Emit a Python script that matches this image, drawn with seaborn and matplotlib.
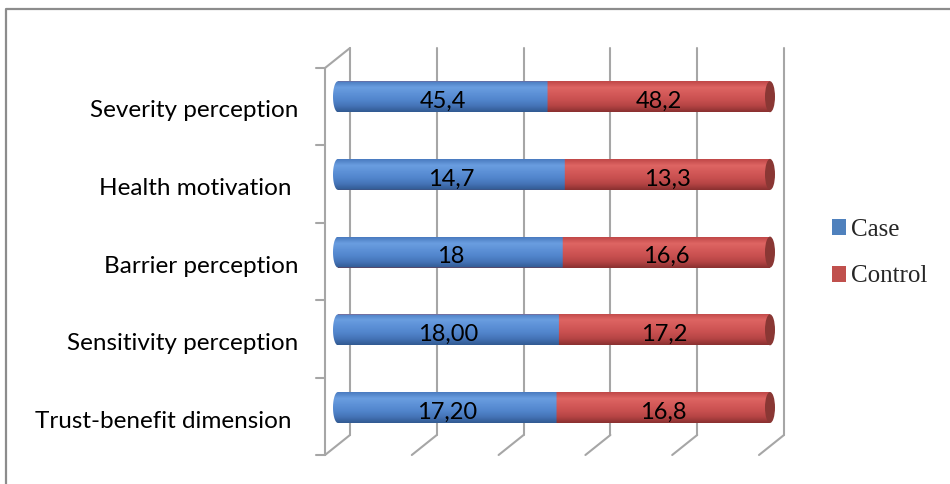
import numpy as np
import pandas as pd
import matplotlib
matplotlib.use("Agg")
import matplotlib.pyplot as plt
import matplotlib.transforms as mtransforms
from matplotlib.colors import LinearSegmentedColormap
from matplotlib.path import Path
from matplotlib.patches import PathPatch, Ellipse, Patch
import seaborn as sns

# ---- data ----
categories = ["Severity perception", "Health motivation ", "Barrier perception",
              "Sensitivity perception", "Trust-benefit dimension "]
case_values = [45.4, 14.7, 18.0, 18.0, 17.2]
control_values = [48.2, 13.3, 16.6, 17.2, 16.8]
case_labels = ["45,4", "14,7", "18", "18,00", "17,20"]
control_labels = ["48,2", "13,3", "16,6", "17,2", "16,8"]
series_names = ["Case", "Control"]

case_pct = [100 * a / (a + b) for a, b in zip(case_values, control_values)]
total_pct = [100 * (a + b) / (a + b) for a, b in zip(case_values, control_values)]
df = pd.DataFrame({"cat": categories, "case": case_pct, "total": total_pct})

W, H = 950, 484
sns.set_theme(style="white")
plt.rcParams["font.family"] = ["Lato", "DejaVu Sans"]
fig = plt.figure(figsize=(W / 100, H / 100), dpi=100)

# ---- background overlay in pixel coordinates (3D frame) ----
bg = fig.add_axes([0, 0, 1, 1], zorder=0)
bg.set_xlim(0, W)
bg.set_ylim(H, 0)
bg.axis("off")
grid_c = "#a6a6a6"
bg.plot([6, 6, W], [H, 9, 9], color="#8c8c8c", lw=1.6, solid_capstyle="butt")
back_x = np.linspace(350, 784, 6)
for bx in back_x:
    bg.plot([bx, bx], [48, 435], color=grid_c, lw=1.5)
    bg.plot([bx, bx - 25], [435, 455], color=grid_c, lw=1.5)
bg.plot([325, 325], [68, 455], color=grid_c, lw=1.5)
bg.plot([325, 350], [68, 48], color=grid_c, lw=1.5)
for ty in np.linspace(68, 455, 6):
    bg.plot([316, 325], [ty, ty], color=grid_c, lw=1.5)

# ---- main axes with bars ----
x0, x1 = 338, 770          # pixel positions of 0 % and 100 %
pad_px = 12
yc0, dy = 96.7, 77.7
top_px = yc0 - dy / 2
bot_px = yc0 + 4 * dy + dy / 2
ax = fig.add_axes([(x0 - pad_px) / W, 1 - bot_px / H, (x1 - x0 + 2 * pad_px) / W,
                   (bot_px - top_px) / H], zorder=1)
ax.patch.set_alpha(0)
unit = 100 / (x1 - x0)     # data units per pixel
xl = (-pad_px * unit, 100 + pad_px * unit)

red = "#C0504D"
blue = "#4F81BD"
bh = 31 / dy
sns.barplot(data=df, x="total", y="cat", color=red, width=bh, ax=ax,
            saturation=1, orient="h", zorder=2)
sns.barplot(data=df, x="case", y="cat", color=blue, width=bh, ax=ax,
            saturation=1, orient="h", zorder=3)
for s in ax.spines.values():
    s.set_visible(False)
ax.set_xticks([])
ax.set_xlabel("")
ax.set_ylabel("")

blue_cmap = LinearSegmentedColormap.from_list(
    "b", ["#4A7BC0", "#6A9EE0", "#5D91D7", "#5286CD", "#4574B8", "#325A92"])
red_cmap = LinearSegmentedColormap.from_list(
    "r", ["#C04848", "#DE6563", "#D45A59", "#C95050", "#B64545", "#8A3030"])

a = 5.0 * unit
grad = np.linspace(0, 1, 64).reshape(-1, 1)

patches = list(ax.patches)
n = len(categories)
for i, p in enumerate(patches):
    is_blue = i >= n
    bx, by = p.get_x(), p.get_y()
    bw, bhh = p.get_width(), p.get_height()
    yc = by + bhh / 2
    z = 3 if is_blue else 2
    if is_blue:
        t = np.linspace(0, np.pi, 40)
        arc = np.column_stack([bx - a * np.sin(t), yc - bhh / 2 * np.cos(t)])
        verts = np.vstack([[bx + bw, by], arc, [bx + bw, by + bhh], [bx + bw, by]])
    else:
        verts = np.array([[bx, by], [bx + bw, by], [bx + bw, by + bhh],
                          [bx, by + bhh], [bx, by]])
    codes = [Path.MOVETO] + [Path.LINETO] * (len(verts) - 2) + [Path.CLOSEPOLY]
    clip = PathPatch(Path(verts, codes), transform=ax.transData,
                     facecolor="none", edgecolor="none")
    ax.add_patch(clip)
    p.set_visible(False)
    im = ax.imshow(grad, cmap=blue_cmap if is_blue else red_cmap, aspect="auto",
                   extent=(bx - a - 0.5, bx + bw, by + bhh, by),
                   interpolation="bilinear", zorder=z + 0.1)
    im.set_clip_path(clip)
    if not is_blue:
        cap = Ellipse((bx + bw, yc), 2 * a, bhh, facecolor="#8A3734",
                      edgecolor="none", zorder=4)
        ax.add_patch(cap)
ax.set_xlim(*xl)
ax.set_ylim(4.5, -0.5)

# data labels
for i in range(n):
    ax.text(case_pct[i] / 2, i + 0.06, case_labels[i], ha="center", va="center",
            fontsize=17, color="black", zorder=6)
    ax.text((case_pct[i] + 100) / 2, i + 0.06, control_labels[i], ha="center",
            va="center", fontsize=17, color="black", zorder=6)

# category labels
ax.set_yticks(range(n))
ax.set_yticklabels(categories, fontsize=17.5, color="black")
ax.tick_params(axis="y", length=0, pad=0)
off = mtransforms.ScaledTranslation(-(40 - pad_px) / 100, -12 / 100, fig.dpi_scale_trans)
for lab in ax.get_yticklabels():
    lab.set_transform(lab.get_transform() + off)

# legend
handles = [Patch(facecolor=blue, edgecolor="none"), Patch(facecolor=red, edgecolor="none")]
fig.legend(handles, series_names, loc="center left",
           bbox_to_anchor=(832 / W, 1 - 253 / H), frameon=False,
           prop={"family": "Liberation Serif", "size": 18},
           handlelength=0.55, handleheight=0.6, handletextpad=0.2,
           labelspacing=1.0, borderaxespad=0, borderpad=0)

fig.savefig("out.png", dpi=100)
